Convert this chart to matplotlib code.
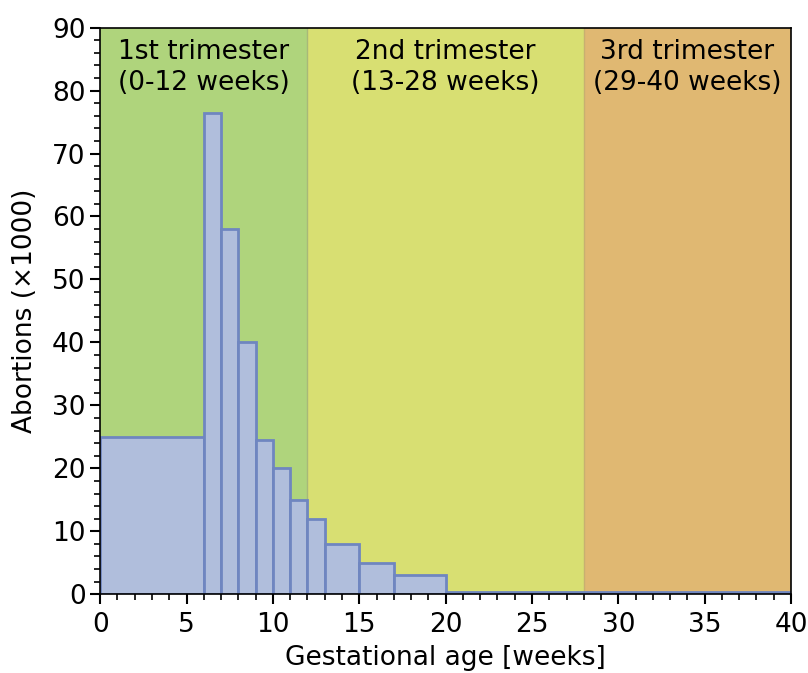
import numpy as np
import matplotlib.pyplot as plt
from matplotlib.ticker import MultipleLocator

# bin edges (weeks) and counts (x1000)
bin_left = [0, 6, 7, 8, 9, 10, 11, 12, 13, 15, 17, 20]
bin_width = [6, 1, 1, 1, 1, 1, 1, 1, 2, 2, 3, 20]
abortions = [25, 76.5, 58, 40, 24.5, 20, 15, 12, 8, 5, 3, 0.3]

trimester_start = [0, 12, 28]
trimester_end = [12, 28, 40]
trimester_labels = ["1st trimester\n(0-12 weeks)", "2nd trimester\n(13-28 weeks)",
                    "3rd trimester\n(29-40 weeks)"]
trimester_colors = ["#afd47c", "#d8df72", "#e0b872"]

fig, ax = plt.subplots(figsize=(8.08, 6.73), dpi=100)
fig.subplots_adjust(left=0.124, right=0.979, top=0.959, bottom=0.117)

for s, e, lab, c in zip(trimester_start, trimester_end, trimester_labels, trimester_colors):
    ax.axvspan(s, e, color=c, zorder=0, lw=0)
    ax.text((s + e) / 2, 88.2, lab, ha="center", va="top", fontsize=19, linespacing=1.25)
ax.axvline(12, color="#a8b878", lw=1, zorder=0.5)
ax.axvline(28, color="#c8b070", lw=1, zorder=0.5)

ax.bar(bin_left, abortions, width=bin_width, align="edge", color="#b0bedc",
       edgecolor="#6f86c0", linewidth=2, zorder=2)

ax.set_xlim(0, 40)
ax.set_ylim(0, 90)
ax.xaxis.set_major_locator(MultipleLocator(5))
ax.xaxis.set_minor_locator(MultipleLocator(1))
ax.yaxis.set_major_locator(MultipleLocator(10))
ax.yaxis.set_minor_locator(MultipleLocator(2))
ax.tick_params(which="major", length=7, width=1.5, labelsize=19)
ax.tick_params(axis="x", which="major", pad=6)
ax.tick_params(which="minor", length=4, width=1.2)
ax.set_xlabel("Gestational age [weeks]", fontsize=19, labelpad=5)
ax.set_ylabel("Abortions (\u00d71000)", fontsize=19, labelpad=10)
for sp in ax.spines.values():
    sp.set_linewidth(1.2)

plt.savefig("out.png")
